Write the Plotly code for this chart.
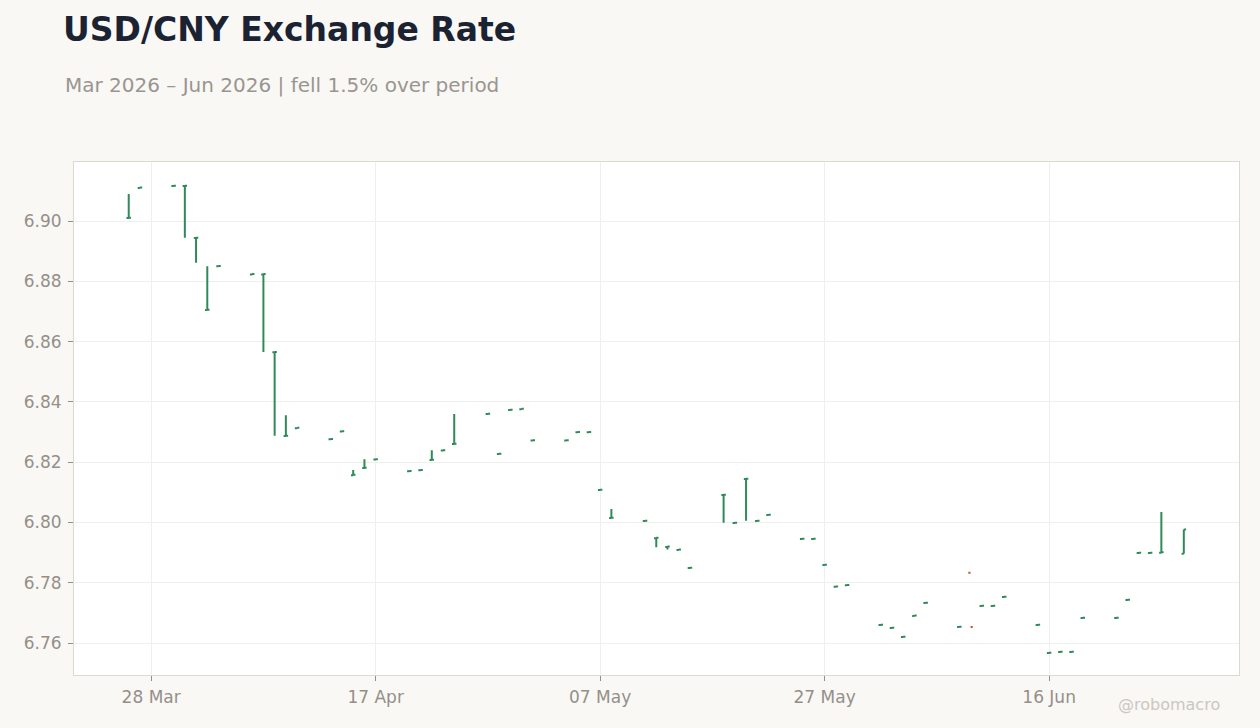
import plotly.graph_objects as go

# daily USD/CNY bars
dates = [
    '2026-03-26', '2026-03-27', '2026-03-30', '2026-03-31', '2026-04-01', '2026-04-02', '2026-04-03',
    '2026-04-06', '2026-04-07', '2026-04-08', '2026-04-09', '2026-04-10',
    '2026-04-13', '2026-04-14', '2026-04-15', '2026-04-16', '2026-04-17',
    '2026-04-20', '2026-04-21', '2026-04-22', '2026-04-23', '2026-04-24',
    '2026-04-27', '2026-04-28', '2026-04-29', '2026-04-30', '2026-05-01',
    '2026-05-04', '2026-05-05', '2026-05-06', '2026-05-07', '2026-05-08',
    '2026-05-11', '2026-05-12', '2026-05-13', '2026-05-14', '2026-05-15',
    '2026-05-18', '2026-05-19', '2026-05-20', '2026-05-21', '2026-05-22',
    '2026-05-25', '2026-05-26', '2026-05-27', '2026-05-28', '2026-05-29',
    '2026-06-01', '2026-06-02', '2026-06-03', '2026-06-04', '2026-06-05',
    '2026-06-08', '2026-06-09', '2026-06-10', '2026-06-11', '2026-06-12',
    '2026-06-15', '2026-06-16', '2026-06-17', '2026-06-18', '2026-06-19',
    '2026-06-22', '2026-06-23', '2026-06-24', '2026-06-25', '2026-06-26',
    '2026-06-28',
]
opens = [
    6.9010, 6.9110, 6.9116, 6.9116, 6.8944, 6.8705, 6.8850,
    6.8823, 6.8823, 6.8565, 6.8287, 6.8313,
    6.8276, 6.8302, 6.8157, 6.8181, 6.8209,
    6.8170, 6.8173, 6.8207, 6.8239, 6.8260,
    6.8360, 6.8227, 6.8373, 6.8376, 6.8272,
    6.8272, 6.8299, 6.8299, 6.8108, 6.8015,
    6.8005, 6.7948, 6.7919, 6.7909, 6.7849,
    6.8091, 6.7998, 6.8144, 6.8005, 6.8025,
    6.7945, 6.7945, 6.7859, 6.7787, 6.7792,
    6.7660, 6.7650, 6.7620, 6.7690, 6.7733,
    6.7653, 6.7833, 6.7723, 6.7723, 6.7753,
    6.7660, 6.7567, 6.7570, 6.7570, 6.7683,
    6.7683, 6.7743, 6.7899, 6.7899, 6.7900,
    6.7896,
]
highs = [
    6.9090, 6.9111, 6.9117, 6.9117, 6.8945, 6.8850, 6.8851,
    6.8824, 6.8824, 6.8566, 6.8356, 6.8314,
    6.8277, 6.8303, 6.8174, 6.8210, 6.8210,
    6.8171, 6.8174, 6.8240, 6.8240, 6.8360,
    6.8361, 6.8228, 6.8374, 6.8377, 6.8273,
    6.8273, 6.8300, 6.8300, 6.8109, 6.8045,
    6.8006, 6.7949, 6.7920, 6.7910, 6.7850,
    6.8092, 6.7999, 6.8145, 6.8006, 6.8026,
    6.7946, 6.7946, 6.7860, 6.7790, 6.7793,
    6.7661, 6.7651, 6.7621, 6.7691, 6.7734,
    6.7654, 6.7653, 6.7724, 6.7724, 6.7754,
    6.7661, 6.7568, 6.7571, 6.7571, 6.7684,
    6.7684, 6.7744, 6.7900, 6.7900, 6.8035,
    6.7977,
]
lows = [
    6.9010, 6.9110, 6.9116, 6.8945, 6.8862, 6.8705, 6.8850,
    6.8823, 6.8566, 6.8288, 6.8287, 6.8313,
    6.8276, 6.8302, 6.8157, 6.8181, 6.8209,
    6.8170, 6.8173, 6.8207, 6.8239, 6.8260,
    6.8360, 6.8227, 6.8373, 6.8376, 6.8272,
    6.8272, 6.8299, 6.8299, 6.8108, 6.8015,
    6.8005, 6.7918, 6.7910, 6.7909, 6.7849,
    6.7999, 6.7998, 6.8006, 6.8005, 6.8025,
    6.7945, 6.7945, 6.7859, 6.7787, 6.7792,
    6.7660, 6.7650, 6.7620, 6.7690, 6.7733,
    6.7653, 6.7653, 6.7723, 6.7723, 6.7753,
    6.7660, 6.7567, 6.7570, 6.7570, 6.7683,
    6.7683, 6.7743, 6.7899, 6.7899, 6.7900,
    6.7896,
]
closes = [
    6.9011, 6.9111, 6.9117, 6.9117, 6.8945, 6.8706, 6.8851,
    6.8824, 6.8824, 6.8566, 6.8288, 6.8314,
    6.8277, 6.8303, 6.8158, 6.8182, 6.8210,
    6.8171, 6.8174, 6.8208, 6.8240, 6.8261,
    6.8361, 6.8228, 6.8374, 6.8377, 6.8273,
    6.8273, 6.8300, 6.8300, 6.8109, 6.8016,
    6.8006, 6.7949, 6.7920, 6.7910, 6.7850,
    6.8092, 6.7999, 6.8145, 6.8006, 6.8026,
    6.7946, 6.7946, 6.7860, 6.7788, 6.7793,
    6.7661, 6.7651, 6.7621, 6.7691, 6.7734,
    6.7654, 6.7653, 6.7724, 6.7724, 6.7754,
    6.7661, 6.7568, 6.7571, 6.7571, 6.7684,
    6.7684, 6.7744, 6.7900, 6.7900, 6.7901,
    6.7977,
]

title = 'USD/CNY Exchange Rate'
subtitle = 'Mar 2026 – Jun 2026 | fell 1.5% over period'
credit = '@robomacro'

font = 'DejaVu Sans'
grey = '#958f8a'

trace = go.Ohlc(
    x=dates,
    open=opens,
    high=highs,
    low=lows,
    close=closes,
    tickwidth=0.2,
    increasing=dict(line=dict(color='#2e8b57', width=2)),
    decreasing=dict(line=dict(color='#d0563b', width=2)),
    showlegend=False,
)

layout = go.Layout(
    width=1260,
    height=728,
    paper_bgcolor='#f9f8f5',
    plot_bgcolor='#ffffff',
    margin=dict(l=74, r=21, t=162, b=53),
    font=dict(family=font, color=grey),
    title=dict(
        text='<b>' + title + '</b>',
        font=dict(family=font, size=33, color='#1b2333'),
        x=0.05, xanchor='left', xref='container',
        y=0.959, yanchor='middle', yref='container',
    ),
    xaxis=dict(
        type='date',
        range=['2026-03-21 03:00', '2026-07-02 22:00'],
        tick0='2026-03-28',
        dtick=20 * 86400000,
        tickformat='%d %b',
        rangeslider=dict(visible=False),
        showgrid=True,
        gridcolor='#efefef',
        ticks='outside',
        ticklen=5,
        tickcolor=grey,
        tickfont=dict(size=17, color=grey),
        ticklabelstandoff=2,
        showline=True,
        linecolor='#ddd8d0',
        mirror=True,
        zeroline=False,
    ),
    yaxis=dict(
        range=[6.7494, 6.9196],
        tickformat='.2f',
        dtick=0.02,
        showgrid=True,
        gridcolor='#efefef',
        ticks='outside',
        ticklen=5,
        tickcolor=grey,
        tickfont=dict(size=17, color=grey),
        ticklabelstandoff=3,
        showline=True,
        linecolor='#ddd8d0',
        mirror=True,
        zeroline=False,
    ),
    annotations=[
        dict(
            text=subtitle, xref='paper', yref='paper',
            x=-0.0094, y=1.150, xanchor='left', yanchor='middle',
            showarrow=False, font=dict(family=font, size=20, color='#9a9590'),
        ),
        dict(
            text=credit, xref='paper', yref='paper',
            x=0.9854, y=-0.058, xanchor='right', yanchor='middle',
            showarrow=False, font=dict(family=font, size=16, color='#cbc7c2'),
        ),
    ],
)

fig = go.Figure(data=[trace], layout=layout)
fig.write_html('out.html', config={'displayModeBar': False},
               post_script="document.body.style.margin='0';")
